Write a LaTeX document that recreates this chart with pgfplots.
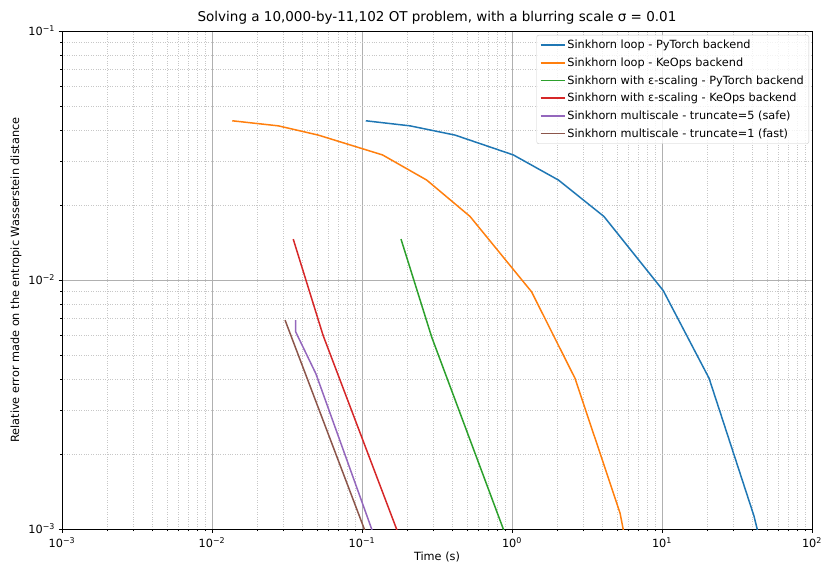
\documentclass[border=0pt]{standalone}
\usepackage{fontspec}
\setmainfont{DejaVu Sans}
\usepackage{pgfplots}
\pgfplotsset{compat=1.18}
\definecolor{c0}{HTML}{1F77B4}
\definecolor{c1}{HTML}{FF7F0E}
\definecolor{c2}{HTML}{2CA02C}
\definecolor{c3}{HTML}{D62728}
\definecolor{c4}{HTML}{9467BD}
\definecolor{c5}{HTML}{8C564B}
\begin{document}
\begin{tikzpicture}
\begin{axis}[
  width=750pt, height=498pt, scale only axis,
  xmode=log, ymode=log,
  xmin=1e-3, xmax=1e2, ymin=1e-3, ymax=1e-1,
  xtick={1e-3,1e-2,1e-1,1,10,100},
  xticklabels={10\textsuperscript{−3},10\textsuperscript{−2},10\textsuperscript{−1},10\textsuperscript{0},10\textsuperscript{1},10\textsuperscript{2}},
  ytick={1e-3,1e-2,1e-1},
  yticklabels={10\textsuperscript{−3},10\textsuperscript{−2},10\textsuperscript{−1}},
  ticklabel style={font=\fontsize{11.3}{13.6}\selectfont},
  xticklabel style={yshift=-2pt},
  tick align=outside, xtick pos=bottom, ytick pos=left,
  major tick length=3.5pt, minor tick length=2pt,
  every tick/.style={black, line width=0.8pt},
  minor tick style={black, line width=0.6pt},
  grid=both,
  major grid style={solid, color=black!31, line width=0.8pt},
  minor grid style={dotted, color=black!22, line width=0.6pt},
  axis line style={black, line width=0.8pt},
  title={Solving a 10,000-by-11,102 OT problem, with a blurring scale σ = 0.01},
  title style={font=\fontsize{13.5}{16}\selectfont, yshift=-3pt},
  xlabel={Time (s)},
  xlabel style={yshift=3pt},
  ylabel={Relative error made on the entropic Wasserstein distance},
  label style={font=\fontsize{11.3}{13.6}\selectfont},
  legend style={at={(0.996,0.992)}, anchor=north east, draw=black!20, rounded corners=2pt,
    fill=white, fill opacity=0.8, text opacity=1, font=\fontsize{11.3}{13.6}\selectfont,
    row sep=3.6pt, inner sep=3pt},
  legend cell align=left,
  legend image code/.code={\draw[#1, line width=1.6pt] (0pt,0pt) -- (24pt,0pt);},
  every axis plot/.append style={line width=1.5pt},
]
\addplot[c0] coordinates {(0.106,0.0436)(0.209,0.0416)(0.417,0.0382)(1.02,0.0318)(2.04,0.0252)(4.1,0.018)(10.2,0.00906)(20.6,0.00403)(41.0,0.00113)(45,0.0009)};
\addlegendentry{Sinkhorn loop - PyTorch backend}
\addplot[c1] coordinates {(0.01365,0.0436)(0.0277,0.0416)(0.0511,0.0382)(0.137,0.0318)(0.27,0.0252)(0.525,0.018)(1.35,0.00897)(2.63,0.00403)(5.25,0.00116)(5.7,0.0009)};
\addlegendentry{Sinkhorn loop - KeOps backend}
\addplot[c2] coordinates {(0.182,0.0146)(0.2915,0.0059)(0.875,0.001)(0.89,0.00096)};
\addlegendentry{Sinkhorn with ε-scaling - PyTorch backend}
\addplot[c3] coordinates {(0.0348,0.0146)(0.055,0.006)(0.170,0.001)(0.173,0.00096)};
\addlegendentry{Sinkhorn with ε-scaling - KeOps backend}
\addplot[c4] coordinates {(0.0361,0.0069)(0.0361,0.0062)(0.0493,0.0042)(0.116,0.001)(0.118,0.00096)};
\addlegendentry{Sinkhorn multiscale - truncate=5 (safe)}
\addplot[c5] coordinates {(0.0307,0.0069)(0.1036,0.001)(0.1055,0.00096)};
\addlegendentry{Sinkhorn multiscale - truncate=1 (fast)}
\end{axis}
\pgfresetboundingbox
\path[use as bounding box] ([xshift=-62pt,yshift=-36pt]current axis.south west) rectangle ([xshift=11pt,yshift=31pt]current axis.north east);
\end{tikzpicture}
\end{document}
